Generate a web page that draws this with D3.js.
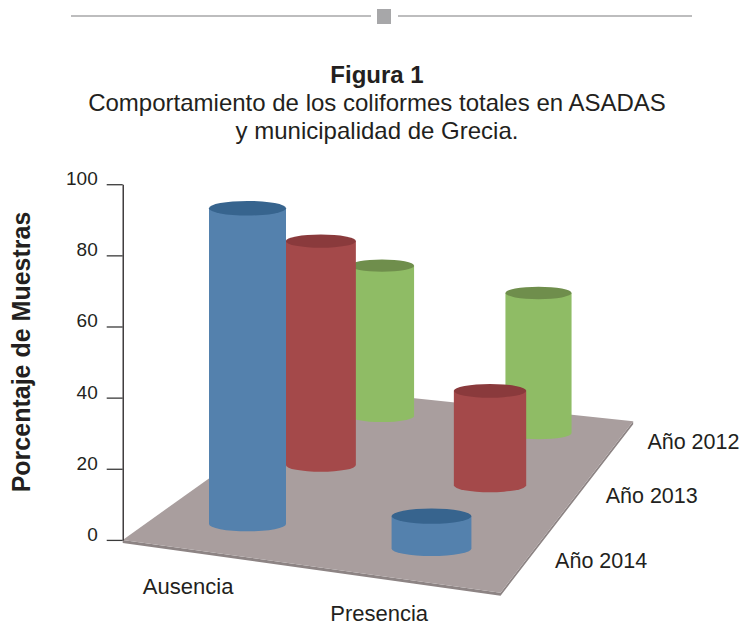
<!DOCTYPE html>
<html><head><meta charset="utf-8">
<script src="https://cdn.jsdelivr.net/npm/d3@7"></script>
<style>
body{margin:0;background:#fff;}
text{font-family:"Liberation Sans",Arial,sans-serif;fill:#231f20;}
</style>
</head><body>
<svg id="chart" width="744" height="626"></svg>
<script>
// ---------- data ----------
const categories = ["Ausencia", "Presencia"];
const seriesNames = ["Año 2014", "Año 2013", "Año 2012"]; // front to back
const values2014 = [91, 9];
const values2013 = [71, 29];
const values2012 = [52, 47];
const yTicks = [0, 20, 40, 60, 80, 100];
const titleText = "Figura 1";
const subtitleLines = ["Comportamiento de los coliformes totales en ASADAS", "y municipalidad de Grecia."];
const yAxisTitle = "Porcentaje de Muestras";

// ---------- styles ----------
const sideColors = {"Año 2014": "#5481ad", "Año 2013": "#a4494a", "Año 2012": "#8fbc65"};
const topColors  = {"Año 2014": "#37648e", "Año 2013": "#8a3a3c", "Año 2012": "#6f8e4c"};

const table = [values2014, values2013, values2012].flatMap((vals, si) =>
  categories.map((c, ci) => ({series: seriesNames[si], category: c, value: vals[ci]})));

const svg = d3.select("#chart");

// ---------- header decoration ----------
svg.append("line").attr("x1", 71).attr("x2", 371).attr("y1", 16).attr("y2", 16)
  .attr("stroke", "#a7a7a9").attr("stroke-width", 1.6);
svg.append("line").attr("x1", 398).attr("x2", 692).attr("y1", 16).attr("y2", 16)
  .attr("stroke", "#a7a7a9").attr("stroke-width", 1.6);
svg.append("rect").attr("x", 377).attr("y", 9).attr("width", 14).attr("height", 15).attr("fill", "#a7a7a9");

// ---------- titles ----------
svg.append("text").attr("x", 377).attr("y", 83).attr("text-anchor", "middle")
  .attr("font-size", 24).attr("font-weight", "bold").text(titleText);
subtitleLines.forEach((t, i) => svg.append("text").attr("x", 377).attr("y", 111 + i * 28)
  .attr("text-anchor", "middle").attr("font-size", 24).text(t));

// ---------- projection (floor plane homography) ----------
function homography(P) {
  const [x0, y0] = P[0], [x1, y1] = P[1], [x2, y2] = P[2], [x3, y3] = P[3];
  const dx1 = x1 - x2, dy1 = y1 - y2, dx2 = x3 - x2, dy2 = y3 - y2;
  const sx = x0 - x1 + x2 - x3, sy = y0 - y1 + y2 - y3;
  const den = dx1 * dy2 - dx2 * dy1;
  const g = (sx * dy2 - dx2 * sy) / den, h = (dx1 * sy - sx * dy1) / den;
  const a = x1 - x0 + g * x1, b = x3 - x0 + h * x3, c = x0;
  const d = y1 - y0 + g * y1, e = y3 - y0 + h * y3, f = y0;
  return (u, v) => { const w = g * u + h * v + 1; return {x: (a * u + b * v + c) / w, y: (d * u + e * v + f) / w, w}; };
}
const proj = homography([[247.5, 524], [431.5, 548.5], [538.5, 433], [382, 416]]);

const xScale = d3.scalePoint().domain(categories).range([0, 1]);
const zScale = d3.scalePoint().domain(seriesNames).range([0, 1]);
const yScale = d3.scaleLinear().domain([0, 100]).range([0, 347]);
const floorU = [-0.495, 1.482], floorV = [-0.21, 1.215];
const radius = 38.5, ellipseRatio = 0.19;

// ---------- floor ----------
const FL = proj(floorU[0], floorV[0]), FR = proj(floorU[1], floorV[0]),
      BR = proj(floorU[1], floorV[1]), BL = proj(floorU[0], floorV[1]);
const thick = 3;
svg.append("path")
  .attr("d", `M${FL.x},${FL.y}L${FR.x},${FR.y}L${BR.x},${BR.y}L${BR.x},${BR.y + thick}L${FR.x},${FR.y + thick}L${FL.x},${FL.y + thick}Z`)
  .attr("fill", "#8d8484");
svg.append("path")
  .attr("d", `M${FL.x},${FL.y}L${FR.x},${FR.y}L${BR.x},${BR.y}L${BL.x},${BL.y}Z`)
  .attr("fill", "#a99e9e");

// ---------- value axis ----------
const axisScale = d3.scaleLinear().domain([0, 100]).range([FL.y, FL.y - yScale(100) / FL.w]);
const ax = svg.append("g").attr("transform", `translate(${FL.x},0)`)
  .call(d3.axisLeft(axisScale).tickValues(yTicks).tickSize(16).tickSizeOuter(0).tickPadding(9));
ax.select(".domain").attr("stroke", "#231f20").attr("stroke-width", 1.3);
ax.selectAll(".tick line").attr("stroke", "#3a3a3a").attr("stroke-width", 1.3);
ax.selectAll(".tick text").attr("font-size", 19).attr("font-family", "Liberation Sans, Arial, sans-serif")
  .attr("fill", "#231f20").attr("dy", "0.02em");

svg.append("text").attr("transform", "translate(30,352) rotate(-90)").attr("text-anchor", "middle")
  .attr("font-size", 25).attr("font-weight", "bold").text(yAxisTitle);

// ---------- cylinders (back to front) ----------
const bars = table.map(d => {
  const p = proj(xScale(d.category), zScale(d.series));
  const rx = radius / p.w, ry = rx * ellipseRatio, hpx = yScale(d.value) / p.w;
  return Object.assign({}, d, {bx: p.x, by: p.y, rx, ry, top: p.y - hpx, depth: zScale(d.series)});
}).sort((a, b) => b.depth - a.depth);

const g = svg.append("g");
bars.forEach(b => {
  g.append("path")
    .attr("d", `M${b.bx - b.rx},${b.top}L${b.bx - b.rx},${b.by}A${b.rx},${b.ry} 0 0 0 ${b.bx + b.rx},${b.by}L${b.bx + b.rx},${b.top}Z`)
    .attr("fill", sideColors[b.series]);
  g.append("ellipse").attr("cx", b.bx).attr("cy", b.top).attr("rx", b.rx).attr("ry", b.ry)
    .attr("fill", topColors[b.series]);
});

// ---------- category labels ----------
categories.forEach(c => {
  const p = proj(xScale(c), floorV[0]);
  svg.append("text").attr("x", p.x - 24).attr("y", p.y + 42).attr("text-anchor", "middle")
    .attr("font-size", 22).text(c);
});
// ---------- series labels ----------
seriesNames.forEach(s => {
  const p = proj(floorU[1], zScale(s));
  svg.append("text").attr("x", p.x + 30).attr("y", p.y + 7).attr("text-anchor", "start")
    .attr("font-size", 21.5).text(s);
});
</script>
</body></html>
